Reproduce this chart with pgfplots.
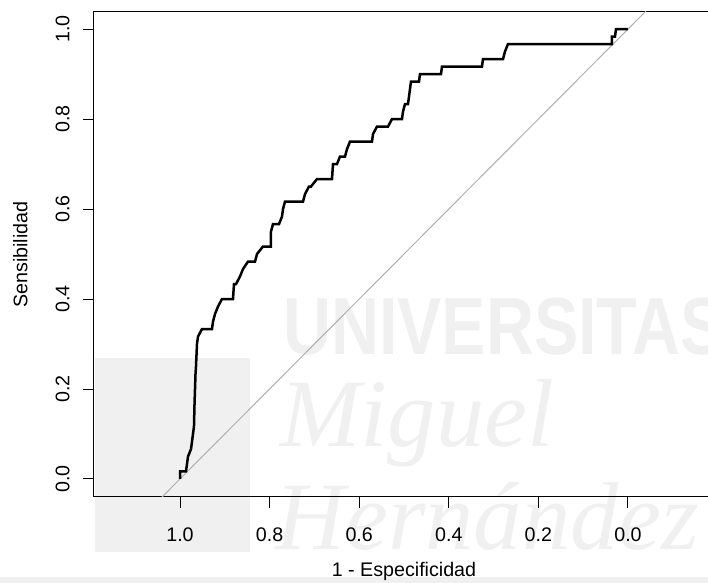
\documentclass[border=0pt]{standalone}
\usepackage{fontspec}
\setmainfont{Liberation Sans}
\newfontfamily\wmserif{Liberation Serif}
\usepackage{pgfplots}
\pgfplotsset{compat=1.18}
\definecolor{diag}{RGB}{175,175,175}
\definecolor{wm}{RGB}{240,240,240}
\pgfplotstableread{
spec sens
1.0000 0.0000
1.0000 0.0167
0.9866 0.0167
0.9844 0.0333
0.9821 0.0500
0.9754 0.0667
0.9732 0.0833
0.9710 0.1000
0.9688 0.1167
0.9676 0.1667
0.9665 0.2000
0.9654 0.2333
0.9643 0.2500
0.9621 0.3000
0.9598 0.3167
0.9509 0.3333
0.9286 0.3333
0.9263 0.3500
0.9219 0.3667
0.9152 0.3833
0.9063 0.4000
0.8817 0.4000
0.8795 0.4333
0.8750 0.4333
0.8661 0.4500
0.8594 0.4667
0.8482 0.4833
0.8326 0.4833
0.8281 0.5000
0.8147 0.5167
0.7969 0.5167
0.7969 0.5500
0.7924 0.5667
0.7790 0.5667
0.7723 0.5833
0.7701 0.6000
0.7656 0.6167
0.7254 0.6167
0.7210 0.6333
0.7121 0.6500
0.7076 0.6500
0.6942 0.6667
0.6607 0.6667
0.6585 0.7000
0.6496 0.7000
0.6429 0.7167
0.6317 0.7167
0.6272 0.7333
0.6205 0.7500
0.5714 0.7500
0.5692 0.7667
0.5603 0.7833
0.5357 0.7833
0.5268 0.8000
0.5045 0.8000
0.5022 0.8167
0.4978 0.8333
0.4911 0.8333
0.4888 0.8500
0.4844 0.8833
0.4665 0.8833
0.4643 0.9000
0.4174 0.9000
0.4152 0.9167
0.3259 0.9167
0.3237 0.9333
0.2790 0.9333
0.2746 0.9500
0.2679 0.9667
0.0357 0.9667
0.0357 0.9833
0.0290 0.9833
0.0268 1.0000
0.0000 1.0000
}\roc
\begin{document}
\begin{tikzpicture}
\useasboundingbox (0,0) rectangle (424.8pt,349.8pt);
\fill[wm] (0,0) rectangle (424.8pt,3.6pt);
\fill[wm] (57pt,18.6pt) rectangle (150pt,135pt);
\node[wm, anchor=base west, inner sep=0pt, xscale=0.82, font=\fontsize{48.6}{50}\selectfont\bfseries] at (169.8pt,136.8pt) {UNIVERSITAS};
\node[wm, anchor=base west, inner sep=0pt, font=\fontsize{58}{60}\selectfont\wmserif\itshape] at (168pt,81.6pt) {Miguel};
\node[wm, anchor=base west, inner sep=0pt, font=\fontsize{58}{60}\selectfont\wmserif\itshape] at (165pt,19.8pt) {Hernández};
\begin{axis}[
  at={(56.4pt,51.6pt)}, anchor=south west,
  width=372pt, height=291pt, scale only axis,
  x dir=reverse,
  xmin=-0.192, xmax=1.192, ymin=-0.04, ymax=1.038,
  xtick={0,0.2,0.4,0.6,0.8,1.0},
  ytick={0,0.2,0.4,0.6,0.8,1.0},
  xticklabels={0.0,0.2,0.4,0.6,0.8,1.0},
  yticklabels={0.0,0.2,0.4,0.6,0.8,1.0},
  tick pos=lower,
  tick align=outside,
  major tick length=6.6pt,
  every tick/.style={black, line width=0.6pt},
  axis line style={line width=0.6pt, black},
  /pgf/number format/assume math mode=true,
  tick label style={font=\fontsize{11.8}{14}\selectfont, inner sep=0pt},
  xticklabel style={anchor=north, yshift=-11.4pt},
  yticklabel style={xshift=-7.8pt, rotate=90, anchor=south},
  label style={font=\fontsize{11.8}{14}\selectfont, inner sep=0pt},
  xlabel={1 - Especificidad},
  ylabel={Sensibilidad},
  xlabel style={at={(axis description cs:0.5,-0.134)}, anchor=north},
  ylabel style={at={(axis description cs:-0.1065,0.5)}, rotate=0, anchor=south},
  clip=true,
]
\addplot[diag, line width=0.6pt] coordinates {(1.6,-0.6) (-0.6,1.6)};
\addplot[black, line width=1.5pt, line join=miter] table[x=spec, y=sens] {\roc};
\end{axis}
\end{tikzpicture}
\end{document}
